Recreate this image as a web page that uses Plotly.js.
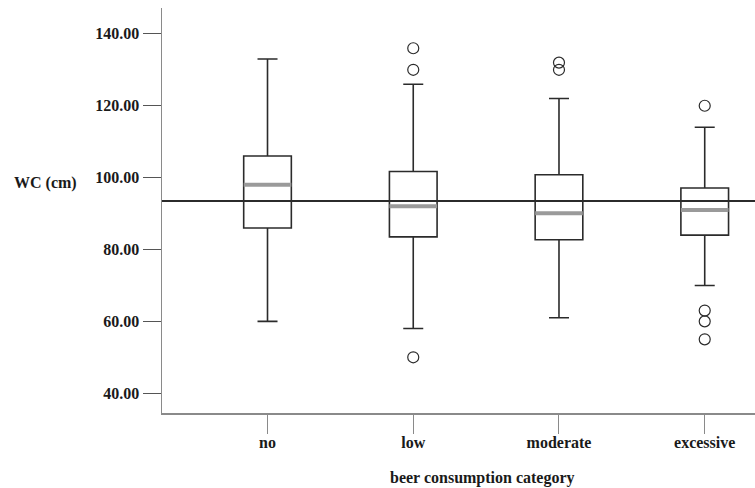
<!DOCTYPE html>
<html>
<head>
<meta charset="utf-8">
<script src="https://cdn.plot.ly/plotly-3.0.1.min.js"></script>
<style>html,body{margin:0;padding:0;background:#fff;}#chart{width:755px;height:488px;}</style>
</head>
<body>
<div id="chart"></div>
<script>
const categories = ['no', 'low', 'moderate', 'excessive'];
const lowerWhisker = [60, 58, 61, 70];
const q1 = [86, 83.5, 82.7, 84];
const median = [98, 92, 90.1, 91];
const q3 = [106, 101.7, 100.8, 97.1];
const upperWhisker = [133, 126, 122, 114];
const outlierCategory = ['low', 'low', 'low', 'moderate', 'moderate', 'excessive', 'excessive', 'excessive', 'excessive'];
const outlierValue = [136, 130, 50, 132, 130, 120, 63, 60, 55];
const referenceValue = 93.5;
const yTicks = [40, 60, 80, 100, 120, 140];

const xIdx = categories.map((c, i) => i);
const boxWidth = 0.327;

// median bars (gray, thick) built from the median array
const medX = [], medY = [];
median.forEach((m, i) => {
  medX.push(i - boxWidth / 2, i + boxWidth / 2, null);
  medY.push(m, m, null);
});

const font = {family: '"Liberation Serif", "Times New Roman", serif', size: 16, color: '#1a1a1a', weight: 'bold'};

const traces = [
  {
    type: 'box',
    x: xIdx,
    q1: q1, median: median, q3: q3,
    lowerfence: lowerWhisker, upperfence: upperWhisker,
    width: boxWidth,
    whiskerwidth: 0.42,
    fillcolor: '#ffffff',
    line: {color: '#2b2b2b', width: 1.6},
    boxpoints: false,
    hoverinfo: 'skip'
  },
  {
    type: 'scatter', mode: 'lines',
    x: medX, y: medY,
    line: {color: '#9a9a9a', width: 4},
    hoverinfo: 'skip'
  },
  {
    type: 'scatter', mode: 'markers',
    x: outlierCategory.map(c => categories.indexOf(c)),
    y: outlierValue,
    marker: {symbol: 'circle-open', size: 11, color: '#2b2b2b', line: {width: 1.2, color: '#2b2b2b'}},
    hoverinfo: 'skip'
  }
];

const layout = {
  width: 755, height: 488,
  margin: {l: 162, r: 0, t: 8, b: 75},
  paper_bgcolor: '#ffffff', plot_bgcolor: '#ffffff',
  showlegend: false,
  hovermode: false,
  font: font,
  xaxis: {
    range: [-0.724, 3.345],
    tickvals: xIdx,
    ticktext: categories,
    showgrid: false, zeroline: false,
    showline: true, linecolor: '#8a8a8a', linewidth: 1.5,
    ticks: 'outside', ticklen: 19, tickcolor: '#8a8a8a', tickwidth: 1,
    ticklabelstandoff: -5,
    tickfont: font
  },
  yaxis: {
    range: [34.5, 147.2],
    tickvals: yTicks,
    tickformat: '.2f',
    showgrid: false, zeroline: false,
    showline: true, linecolor: '#8a8a8a', linewidth: 1.5,
    ticks: 'outside', ticklen: 18, tickcolor: '#555555', tickwidth: 1.2,
    tickfont: font
  },
  shapes: [
    {type: 'line', xref: 'paper', x0: 0, x1: 1, yref: 'y', y0: referenceValue, y1: referenceValue,
     line: {color: '#2b2b2b', width: 2}, layer: 'above'}
  ],
  annotations: [
    {text: 'WC (cm)', xref: 'paper', yref: 'paper', x: -0.197, y: 0.568, xanchor: 'center', yanchor: 'middle', showarrow: false, font: font},
    {text: 'beer consumption category', xref: 'paper', yref: 'paper', x: 0.54, y: -0.16, xanchor: 'center', yanchor: 'middle', showarrow: false, font: font}
  ]
};

Plotly.newPlot('chart', traces, layout, {displayModeBar: false, staticPlot: true});
</script>
</body>
</html>
